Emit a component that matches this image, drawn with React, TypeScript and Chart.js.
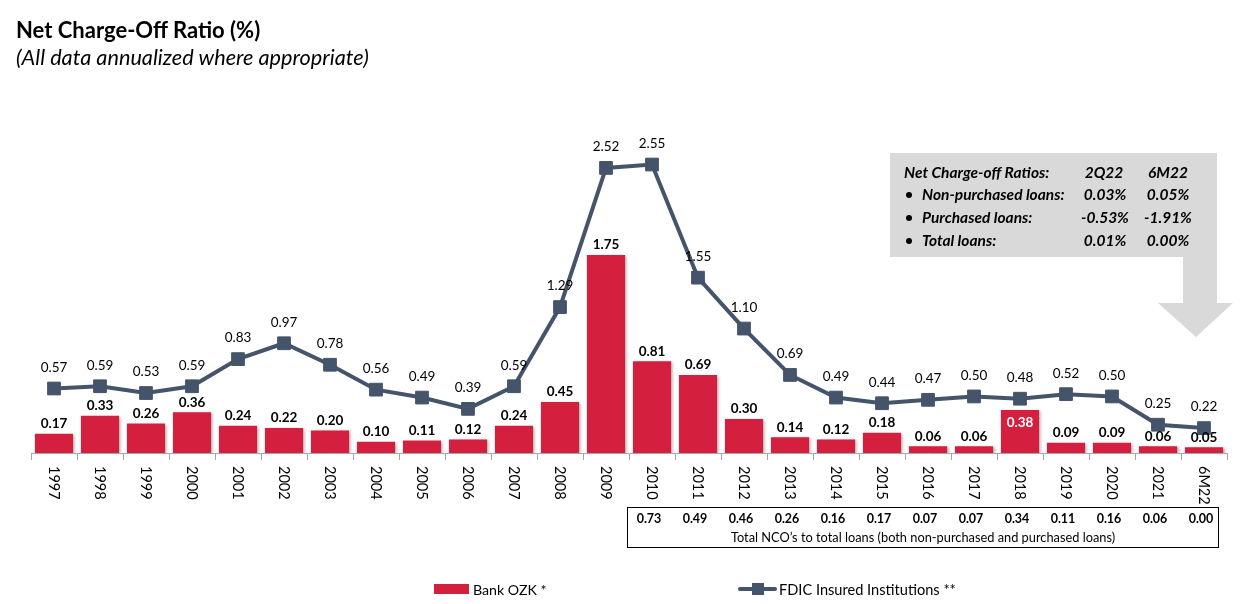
import React, { useEffect, useRef } from "react";
import { Chart, registerables } from "chart.js";

Chart.register(...registerables);

const categories = [
  "1997", "1998", "1999", "2000", "2001", "2002", "2003", "2004", "2005", "2006",
  "2007", "2008", "2009", "2010", "2011", "2012", "2013", "2014", "2015", "2016",
  "2017", "2018", "2019", "2020", "2021", "6M22",
];
const bankOZK = [
  0.17, 0.33, 0.26, 0.36, 0.24, 0.22, 0.2, 0.1, 0.11, 0.12,
  0.24, 0.45, 1.75, 0.81, 0.69, 0.3, 0.14, 0.12, 0.18, 0.06,
  0.06, 0.38, 0.09, 0.09, 0.06, 0.05,
];
const fdic = [
  0.57, 0.59, 0.53, 0.59, 0.83, 0.97, 0.78, 0.56, 0.49, 0.39,
  0.59, 1.29, 2.52, 2.55, 1.55, 1.1, 0.69, 0.49, 0.44, 0.47,
  0.5, 0.48, 0.52, 0.5, 0.25, 0.22,
];
const totalNCOFirstCategory = "2010";
const totalNCO = [0.73, 0.49, 0.46, 0.26, 0.16, 0.17, 0.07, 0.07, 0.34, 0.11, 0.16, 0.06, 0.0];
const totalNCOCaption = "Total NCO\u2019s to total loans (both non-purchased and purchased loans)";

const boxHeader = ["Net Charge-off Ratios:", "2Q22", "6M22"];
const boxRowLabels = ["Non-purchased loans:", "Purchased loans:", "Total loans:"];
const box2Q22 = ["0.03%", "-0.53%", "0.01%"];
const box6M22 = ["0.05%", "-1.91%", "0.00%"];

const insideLabelCategory = "2018";

const RED = "#D51F3F";
const NAVY = "#44546A";
const FONT = "Lato, 'Open Sans', sans-serif";

const customPlugin = {
  id: "customDraw",
  beforeDatasetsDraw(chart: any) {
    const ctx = chart.ctx;
    ctx.save();
    // gray callout box with arrow
    ctx.fillStyle = "#D9D9D9";
    ctx.beginPath();
    ctx.moveTo(890, 153);
    ctx.lineTo(1217, 153);
    ctx.lineTo(1217, 303);
    ctx.lineTo(1233, 303);
    ctx.lineTo(1196, 337);
    ctx.lineTo(1158, 303);
    ctx.lineTo(1183, 303);
    ctx.lineTo(1183, 257);
    ctx.lineTo(890, 257);
    ctx.closePath();
    ctx.fill();

    ctx.fillStyle = "#000";
    ctx.font = `italic bold 15.5px ${FONT}`;
    ctx.textBaseline = "middle";
    const rowsY = [173, 195, 218, 241];
    ctx.textAlign = "left";
    ctx.fillText(boxHeader[0], 904, rowsY[0]);
    ctx.textAlign = "center";
    ctx.fillText(boxHeader[1], 1104, rowsY[0]);
    ctx.fillText(boxHeader[2], 1168, rowsY[0]);
    boxRowLabels.forEach((lab, i) => {
      const y = rowsY[i + 1];
      ctx.beginPath();
      ctx.arc(909, y, 3, 0, Math.PI * 2);
      ctx.fill();
      ctx.textAlign = "left";
      ctx.fillText(lab, 922, y);
      ctx.textAlign = "center";
      ctx.fillText(box2Q22[i], 1105, y);
      ctx.fillText(box6M22[i], 1168, y);
    });
    ctx.restore();
  },
  beforeDatasetDraw(chart: any, args: any) {
    if (args.index === 0) {
      const ctx = chart.ctx;
      ctx.save();
      ctx.shadowColor = "rgba(0,0,0,0.3)";
      ctx.shadowBlur = 3;
      ctx.shadowOffsetX = 2;
      ctx.shadowOffsetY = 1;
    }
  },
  afterDatasetDraw(chart: any, args: any) {
    if (args.index === 0) chart.ctx.restore();
  },
  afterDatasetsDraw(chart: any) {
    const ctx = chart.ctx;
    ctx.save();
    ctx.textAlign = "center";
    ctx.textBaseline = "middle";
    const barMeta = chart.getDatasetMeta(0);
    barMeta.data.forEach((el: any, i: number) => {
      const v = bankOZK[i];
      ctx.font = `bold 13.5px ${FONT}`;
      if (categories[i] === insideLabelCategory) {
        ctx.fillStyle = "#fff";
        ctx.fillText(v.toFixed(2), el.x, el.y + 13);
      } else {
        ctx.fillStyle = "#000";
        ctx.fillText(v.toFixed(2), el.x, el.y - 10);
      }
    });
    const lineMeta = chart.getDatasetMeta(1);
    ctx.font = `13.5px ${FONT}`;
    ctx.fillStyle = "#000";
    lineMeta.data.forEach((el: any, i: number) => {
      ctx.fillText(fdic[i].toFixed(2), el.x, el.y - 21);
    });
    ctx.restore();
  },
  afterDraw(chart: any) {
    const ctx = chart.ctx;
    const xs = chart.scales.x;
    const bottom = chart.chartArea.bottom;
    ctx.save();
    // rotated x tick labels (reading top to bottom)
    ctx.fillStyle = "#000";
    ctx.font = `14.5px ${FONT}`;
    ctx.textAlign = "left";
    ctx.textBaseline = "middle";
    categories.forEach((c, i) => {
      const x = xs.getPixelForValue(i);
      ctx.save();
      ctx.translate(x, bottom + 13);
      ctx.rotate(Math.PI / 2);
      ctx.fillText(c, 0, 0);
      ctx.restore();
    });
    // NCO table
    const start = categories.indexOf(totalNCOFirstCategory);
    const half = (xs.getPixelForValue(1) - xs.getPixelForValue(0)) / 2;
    const left = Math.round(xs.getPixelForValue(start) - half) - 1.5;
    const right = Math.round(chart.chartArea.right) - 8.5;
    ctx.strokeStyle = "#000";
    ctx.lineWidth = 1;
    ctx.strokeRect(left, 507.5, right - left, 40);
    ctx.font = `bold 12.5px ${FONT}`;
    ctx.textAlign = "center";
    totalNCO.forEach((v, j) => {
      const x = xs.getPixelForValue(start + j);
      ctx.fillText(v.toFixed(2), x - 3, 519);
    });
    ctx.font = `12.8px ${FONT}`;
    ctx.fillText(totalNCOCaption, (left + right) / 2, 538);
    ctx.restore();
  },
};

export default function App() {
  const ref = useRef<HTMLCanvasElement>(null);
  useEffect(() => {
    if (!ref.current) return;
    const chart = new Chart(ref.current, {
      type: "bar",
      data: {
        labels: categories,
        datasets: [
          {
            type: "bar",
            label: "Bank OZK *",
            data: bankOZK,
            backgroundColor: RED,
            borderWidth: 0,
            categoryPercentage: 0.83,
            barPercentage: 1,
            order: 1,
          },
          {
            type: "line",
            label: "FDIC Insured Institutions **",
            data: fdic,
            borderColor: NAVY,
            borderWidth: 4,
            pointStyle: "rect",
            pointRadius: 9,
            pointBackgroundColor: NAVY,
            pointBorderColor: NAVY,
            pointBorderWidth: 1,
            tension: 0,
            order: 0,
          } as any,
        ],
      },
      options: {
        responsive: false,
        animation: false,
        devicePixelRatio: 1,
        layout: { padding: { left: 31, right: 25, top: 91, bottom: 0 } },
        plugins: {
          legend: { display: false },
          tooltip: { enabled: false },
          title: { display: false },
        },
        scales: {
          x: {
            type: "category",
            offset: true,
            grid: {
              display: true,
              drawOnChartArea: false,
              drawTicks: true,
              tickLength: 7,
              color: "#A6A6A6",
              offset: true,
            },
            border: { display: true, color: "#A6A6A6", width: 1 },
            ticks: { display: false },
            afterFit: (s: any) => {
              s.height = 151;
            },
          },
          y: {
            display: false,
            min: 0,
            max: 3.2,
          },
        },
      },
      plugins: [customPlugin],
    });
    return () => chart.destroy();
  }, []);

  return (
    <div
      style={{
        position: "fixed",
        left: 0,
        top: 0,
        width: 1252,
        height: 604,
        background: "#fff",
        fontFamily: FONT,
        color: "#000",
      }}
    >
      <canvas ref={ref} width={1252} height={604} style={{ position: "absolute", left: 0, top: 0 }} />
      <div
        style={{
          position: "absolute",
          left: 16,
          top: 17,
          fontSize: 22,
          fontWeight: 700,
          lineHeight: "26px",
          whiteSpace: "nowrap",
        }}
      >
        Net Charge-Off Ratio (%)
      </div>
      <div
        style={{
          position: "absolute",
          left: 16,
          top: 44,
          fontSize: 21.7,
          fontStyle: "italic",
          lineHeight: "26px",
          whiteSpace: "nowrap",
        }}
      >
        (All data annualized where appropriate)
      </div>
      <div
        style={{
          position: "absolute",
          left: 434,
          top: 579,
          height: 20,
          display: "flex",
          alignItems: "center",
          fontSize: 14.2,
          whiteSpace: "nowrap",
        }}
      >
        <span style={{ display: "inline-block", width: 35, height: 10, background: RED, marginRight: 4 }} />
        <span>Bank OZK *</span>
      </div>
      <div
        style={{
          position: "absolute",
          left: 738,
          top: 579,
          height: 20,
          display: "flex",
          alignItems: "center",
          fontSize: 14.6,
          whiteSpace: "nowrap",
        }}
      >
        <span style={{ position: "relative", display: "inline-block", width: 39, height: 12, marginRight: 2 }}>
          <span style={{ position: "absolute", left: 0, right: 0, top: 4, height: 4, background: NAVY, borderRadius: 2 }} />
          <span style={{ position: "absolute", left: 14, top: 0, width: 12, height: 12, background: NAVY }} />
        </span>
        <span>FDIC Insured Institutions **</span>
      </div>
    </div>
  );
}
